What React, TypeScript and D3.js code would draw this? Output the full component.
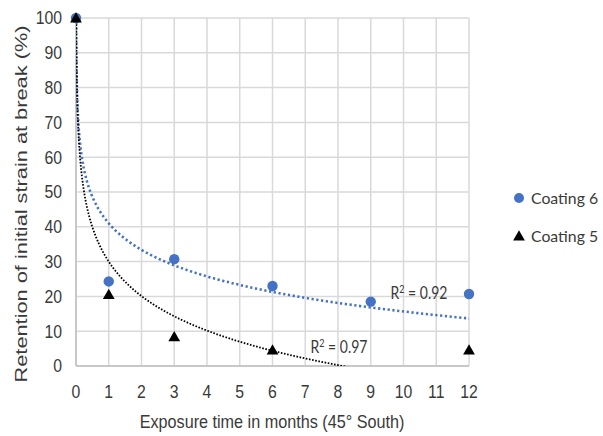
import React from "react";
import * as d3 from "d3";

const months6 = [0, 1, 3, 6, 9, 12];
const coating6 = [100, 24.3, 30.7, 23, 18.5, 20.7];
const months5 = [0, 1, 3, 6, 12];
const coating5 = [100, 20.5, 8.4, 4.6, 4.6];
const xTicks = [0, 1, 2, 3, 4, 5, 6, 7, 8, 9, 10, 11, 12];
const yTicks = [0, 10, 20, 30, 40, 50, 60, 70, 80, 90, 100];
// logarithmic trendline coefficients y = a - b ln(x)
const trend6 = { a: 41, b: 11, r2: "0.92" };
const trend5 = { a: 30, b: 14.3, r2: "0.97" };

const W = 603;
const H = 436;
const left = 76;
const right = 469;
const top = 18;
const bottom = 366;

export default function App() {
  const x = d3.scaleLinear().domain([0, 12]).range([left, right]);
  const y = d3.scaleLinear().domain([0, 100]).range([bottom, top]);

  const trendPts = (t: { a: number; b: number }) => {
    const x0 = Math.exp((t.a - 100) / t.b);
    const xs: number[] = [];
    const n = 400;
    for (let i = 0; i <= n; i++) {
      const lx = Math.log(x0) + (Math.log(12) - Math.log(x0)) * (i / n);
      xs.push(Math.exp(lx));
    }
    return xs.map((v) => [v, t.a - t.b * Math.log(v)] as [number, number]);
  };
  const line = d3
    .line<[number, number]>()
    .x((d) => x(d[0]))
    .y((d) => y(d[1]));

  const tri = d3.symbol().type(d3.symbolTriangle).size(60)() as string;
  const blue = "#4472C4";
  const font = "'Liberation Sans', Arial, sans-serif";
  const txt = "#3a3a3a";
  const sy = 1.14;

  return (
    <div style={{ position: "absolute", left: 0, top: 0 }}>
      <svg width={W} height={H} style={{ display: "block", background: "#fff" }}>
        <defs>
          <clipPath id="plot">
            <rect x={left} y={top} width={right - left} height={bottom - top} />
          </clipPath>
        </defs>
        {xTicks.map((t) => (
          <line key={"gx" + t} x1={x(t)} x2={x(t)} y1={y(0)} y2={y(100)} stroke="#d9d9d9" strokeWidth={1.5} />
        ))}
        {yTicks.map((t) => (
          <line key={"gy" + t} x1={x(0)} x2={x(12)} y1={y(t)} y2={y(t)} stroke="#d9d9d9" strokeWidth={1.5} />
        ))}
        <line x1={x(0)} x2={x(0)} y1={y(0)} y2={y(100)} stroke="#bfbfbf" strokeWidth={1.5} />
        <line x1={x(0)} x2={x(12)} y1={y(0)} y2={y(0)} stroke="#bfbfbf" strokeWidth={1.5} />
        {yTicks.map((t) => (
          <text
            key={"ty" + t}
            transform={`translate(62,${y(t)}) scale(1,${sy})`}
            dy="0.36em"
            textAnchor="end"
            fontFamily={font}
            fontSize={15.8}
            fill={txt}
          >
            {t}
          </text>
        ))}
        {xTicks.map((t) => (
          <text
            key={"tx" + t}
            transform={`translate(${x(t)},391.5) scale(1,${sy})`}
            dy="0.36em"
            textAnchor="middle"
            fontFamily={font}
            fontSize={15.8}
            fill={txt}
          >
            {t}
          </text>
        ))}
        <text
          transform={`translate(272,421) scale(1,${sy})`}
          dy="0.36em"
          textAnchor="middle"
          fontFamily={font}
          fontSize={16.2}
          fill={txt}
        >
          Exposure time in months (45° South)
        </text>
        <text
          transform={`translate(21,204) rotate(-90)`}
          dy="0.36em"
          textAnchor="middle"
          fontFamily={font}
          fontSize={16.5}
          textLength={357}
          lengthAdjust="spacingAndGlyphs"
          fill={txt}
        >
          Retention of initial strain at break (%)
        </text>
        <g clipPath="url(#plot)">
          <path d={line(trendPts(trend6)) || ""} fill="none" stroke={blue} strokeWidth={2.6} strokeDasharray="2.2 2.6" />
          <path d={line(trendPts(trend5)) || ""} fill="none" stroke="#000" strokeWidth={1.8} strokeDasharray="1.6 1.6" />
        </g>
        {months6.map((m, i) => (
          <circle key={"c" + i} cx={x(m)} cy={y(coating6[i])} r={5.2} fill={blue} />
        ))}
        {months5.map((m, i) => (
          <path key={"t" + i} d={tri} transform={`translate(${x(m)},${y(coating5[i]) + 1})`} fill="#000" />
        ))}
        <text
          transform={`translate(419,293) scale(1,1.2)`}
          dy="0.36em"
          textAnchor="middle"
          fontFamily="Lato, sans-serif"
          fontSize={14}
          fill={txt}
        >
          R<tspan fontSize={9} dy="-5">2</tspan>
          <tspan dy="5"> = {trend6.r2}</tspan>
        </text>
        <text
          transform={`translate(339,347) scale(1,1.2)`}
          dy="0.36em"
          textAnchor="middle"
          fontFamily="Lato, sans-serif"
          fontSize={14}
          fill={txt}
        >
          R<tspan fontSize={9} dy="-5">2</tspan>
          <tspan dy="5"> = {trend5.r2}</tspan>
        </text>
        <circle cx={519} cy={198} r={5} fill={blue} />
        <text x={531} y={198} dy="0.36em" fontFamily="Lato, sans-serif" fontSize={15.8} fill={txt}>
          Coating 6
        </text>
        <path d={tri} transform={`translate(519,237)`} fill="#000" />
        <text x={531} y={236} dy="0.36em" fontFamily="Lato, sans-serif" fontSize={15.8} fill={txt}>
          Coating 5
        </text>
      </svg>
    </div>
  );
}
